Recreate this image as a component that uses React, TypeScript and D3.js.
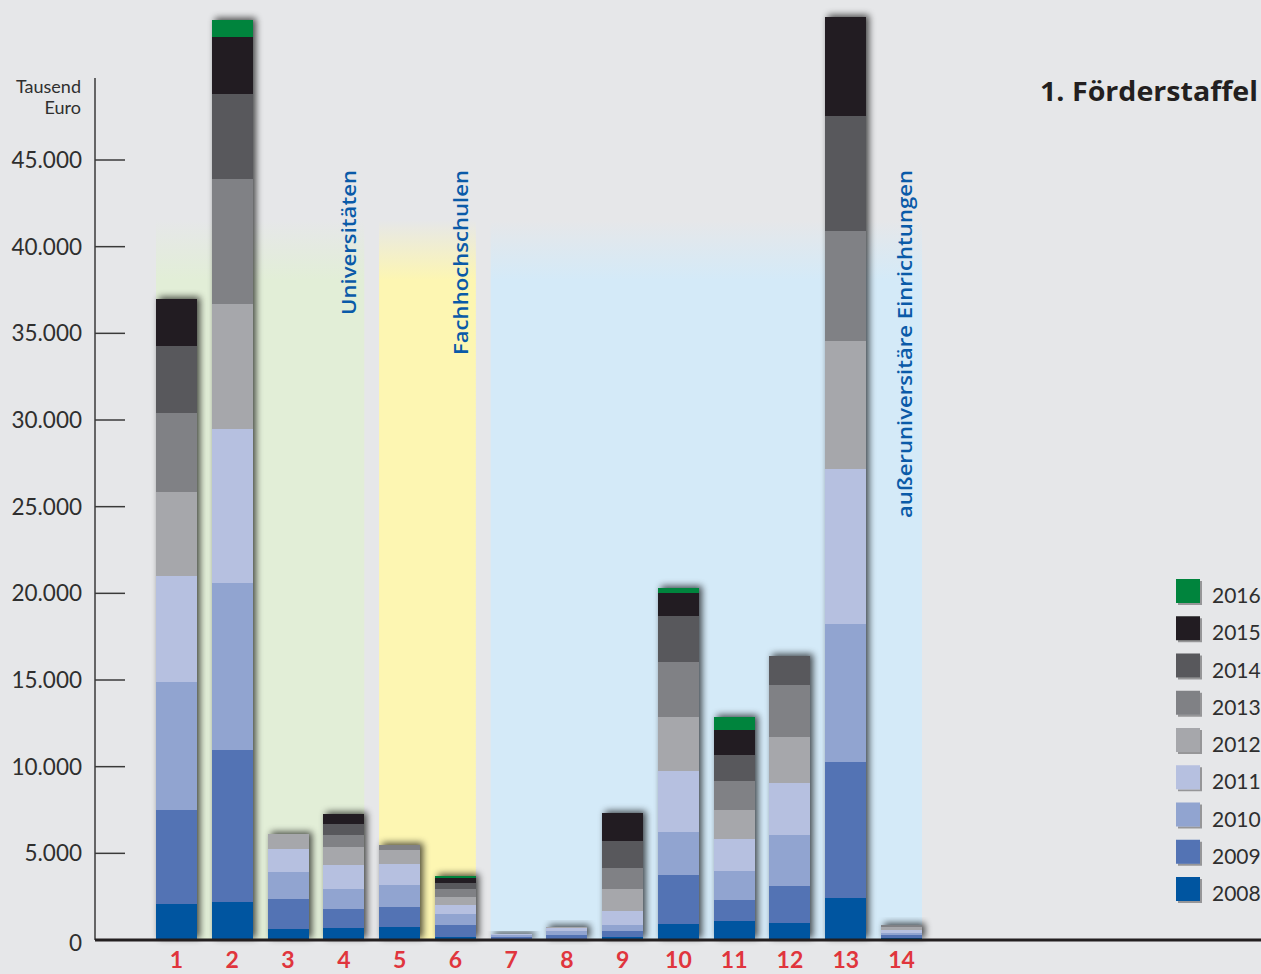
import React, { useEffect } from "react";
import * as d3 from "d3";

const categories = ["1", "2", "3", "4", "5", "6", "7", "8", "9", "10", "11", "12", "13", "14"];
const years = ["2008", "2009", "2010", "2011", "2012", "2013", "2014", "2015", "2016"];
const y2008 = [2080, 2190, 640, 690, 750, 170, 50, 60, 170, 920, 1100, 980, 2420, 115];
const y2009 = [5420, 8770, 1730, 1100, 1150, 690, 110, 230, 350, 2830, 1210, 2140, 7850, 170];
const y2010 = [7390, 9640, 1560, 1150, 1270, 640, 120, 230, 350, 2480, 1670, 2940, 7960, 115];
const y2011 = [6120, 8890, 1330, 1390, 1210, 520, 60, 170, 810, 3520, 1850, 3000, 8940, 170];
const y2012 = [4850, 7210, 870, 1040, 810, 460, 0, 60, 1270, 3120, 1670, 2650, 7390, 170];
const y2013 = [4560, 7210, 0, 690, 290, 460, 0, 0, 1210, 3170, 1670, 3000, 6350, 115];
const y2014 = [3870, 4910, 0, 640, 0, 350, 0, 0, 1560, 2650, 1500, 1670, 6640, 0];
const y2015 = [2710, 3290, 0, 580, 0, 290, 0, 0, 1620, 1330, 1440, 0, 5710, 0];
const y2016 = [0, 980, 0, 0, 0, 120, 0, 0, 0, 290, 750, 0, 0, 0];
const seriesValues = [y2008, y2009, y2010, y2011, y2012, y2013, y2014, y2015, y2016];
const yearColors = ["#0054a0", "#5273b4", "#91a4d0", "#b6c0e0", "#a6a7ab", "#808185", "#58595b", "#231f20", "#00843d"];
const yTicks = [0, 5000, 10000, 15000, 20000, 25000, 30000, 35000, 40000, 45000];
const groups = [
  { label: "Universitäten", first: "1", last: "4", color: "#e2eed7", len: 145 },
  { label: "Fachhochschulen", first: "5", last: "6", color: "#fdf6b2", len: 185 },
  { label: "außeruniversitäre Einrichtungen", first: "7", last: "14", color: "#d4eaf8", len: 348 },
];
const title = "1. Förderstaffel";
const unitLines = ["Tausend", "Euro"];

const W = 1261;
const H = 974;
const FONT = "Lato, 'Open Sans', sans-serif";
const FONT2 = "'Open Sans', Lato, sans-serif";

export default function App() {
  useEffect(() => {
    document.body.style.margin = "0";
    document.body.style.overflow = "hidden";
  }, []);

  const x = d3.scaleBand<string>().domain(categories).range([156, 922]).paddingInner(0.265).paddingOuter(0);
  const y = d3.scaleLinear().domain([0, 45000]).range([940, 160]);

  const table = categories.map((c, i) => {
    const row: any = { cat: c };
    years.forEach((yr, j) => (row[yr] = seriesValues[j][i]));
    return row;
  });
  const stacked = d3.stack<any>().keys(years)(table);
  const fmt = (v: number) => d3.format(",")(v).replace(/,/g, ".");

  const legendY = d3.scalePoint<string>().domain([...years].reverse()).range([591, 889]);

  return (
    <svg width={W} height={H} style={{ position: "absolute", left: 0, top: 0, fontFamily: FONT }}>
      <defs>
        <filter id="shadow" x="-50%" y="-50%" width="200%" height="200%">
          <feGaussianBlur in="SourceAlpha" stdDeviation="3.5" />
          <feOffset dx="3" dy="-2" result="b" />
          <feComponentTransfer>
            <feFuncA type="linear" slope="0.7" />
          </feComponentTransfer>
          <feMerge>
            <feMergeNode />
            <feMergeNode in="SourceGraphic" />
          </feMerge>
        </filter>
        <filter id="lshadow" x="-20%" y="-20%" width="150%" height="150%">
          <feOffset in="SourceAlpha" dx="1.5" dy="1.5" />
          <feGaussianBlur stdDeviation="0.6" />
          <feComponentTransfer>
            <feFuncA type="linear" slope="0.35" />
          </feComponentTransfer>
          <feMerge>
            <feMergeNode />
            <feMergeNode in="SourceGraphic" />
          </feMerge>
        </filter>
        {groups.map((g, i) => (
          <linearGradient key={i} id={`grad${i}`} gradientUnits="userSpaceOnUse" x1="0" y1="220" x2="0" y2="280">
            <stop offset="0" stopColor={g.color} stopOpacity="0" />
            <stop offset="1" stopColor={g.color} stopOpacity="1" />
          </linearGradient>
        ))}
      </defs>
      <rect x={0} y={0} width={W} height={H} fill="#e6e7e9" />

      {groups.map((g, i) => {
        const x0 = x(g.first)!;
        const x1 = x(g.last)! + x.bandwidth();
        return <rect key={i} x={x0} y={220} width={x1 - x0} height={940 - 220} fill={`url(#grad${i})`} />;
      })}

      {groups.map((g, i) => {
        const xr = x(g.last)! + x.bandwidth() + (i === 2 ? -10 : -8);
        return (
          <text
            key={i}
            transform={`translate(${xr},170) rotate(-90)`}
            textAnchor="end"
            fontFamily={FONT2}
            fontSize={20}
            fontWeight={600}
            fill="#0a5aa8"
            textLength={g.len}
            lengthAdjust="spacingAndGlyphs"
          >
            {g.label}
          </text>
        );
      })}

      {categories.map((c, i) => (
        <g key={c} filter="url(#shadow)">
          {stacked.map((s, j) =>
            s[i][1] - s[i][0] > 0 ? (
              <rect
                key={j}
                x={x(c)}
                y={y(s[i][1])}
                width={x.bandwidth()}
                height={y(s[i][0]) - y(s[i][1])}
                fill={yearColors[j]}
                shapeRendering="crispEdges"
              />
            ) : null
          )}
        </g>
      ))}

      <line x1={95} x2={95} y1={78} y2={940} stroke="#3a3a3a" strokeWidth={1.5} />
      {yTicks.map((t) => (
        <g key={t}>
          {t > 0 && <line x1={95} x2={125} y1={y(t)} y2={y(t)} stroke="#3a3a3a" strokeWidth={1.5} />}
          <text x={82} y={y(t) + (t === 0 ? 3 : 0)} dy="0.36em" textAnchor="end" fontSize={22.5} fill="#2f2f2f">
            {fmt(t)}
          </text>
        </g>
      ))}
      {unitLines.map((l, i) => (
        <text key={l} x={81} y={93 + i * 21} textAnchor="end" fontSize={18} fill="#2f2f2f">
          {l}
        </text>
      ))}

      <line x1={95} x2={W} y1={940} y2={940} stroke="#231f20" strokeWidth={3} />

      {categories.map((c) => (
        <text key={c} x={x(c)! + x.bandwidth() / 2} y={968} textAnchor="middle" fontSize={23} fontWeight={700} fill="#e0353d">
          {c}
        </text>
      ))}

      <text
        x={1258}
        y={101}
        textAnchor="end"
        fontFamily={FONT2}
        fontSize={26}
        fontWeight={700}
        fill="#231f20"
        textLength={218}
        lengthAdjust="spacingAndGlyphs"
      >
        {title}
      </text>

      {years.map((yr, j) => (
        <g key={yr}>
          <rect x={1176} y={legendY(yr)! - 12} width={24} height={24} fill={yearColors[j]} filter="url(#lshadow)" />
          <text x={1212} y={legendY(yr)! + 12} fontSize={21} fill="#2f2f2f">
            {yr}
          </text>
        </g>
      ))}
    </svg>
  );
}
